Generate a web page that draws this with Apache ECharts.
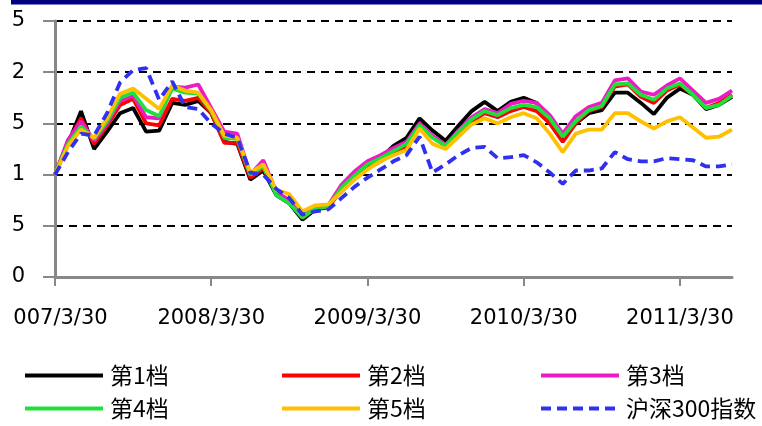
<!DOCTYPE html>
<html>
<head>
<meta charset="utf-8">
<script src="https://cdn.jsdelivr.net/npm/echarts@6/dist/echarts.min.js"></script>
<style>
html, body { margin: 0; padding: 0; background: #fff; }
#chart { width: 762px; height: 426px; }
</style>
</head>
<body>
<div id="chart"></div>
<script>
// 月末日期 2007/3 ~ 2011/7
var categories = [];
for (var y = 2007; y <= 2011; y++) {
  for (var m = 1; m <= 12; m++) {
    if (y === 2007 && m < 3) continue;
    if (y === 2011 && m > 7) break;
    categories.push(y + '/' + m + '/' + (m === 2 ? 28 : 30));
  }
}

// 轴上看得到的刻度文字（左侧被裁掉一部分）
var xTickLabels = ['007/3/30', '2008/3/30', '2009/3/30', '2010/3/30', '2011/3/30'];
var yTickLabels = ['0', '5', '1', '5', '2', '5'];

var seriesNames = ['第1档', '第2档', '第3档', '第4档', '第5档', '沪深300指数'];

var tier1 = [1.00,1.30,1.62,1.25,1.42,1.60,1.65,1.42,1.43,1.70, 1.68,1.72,1.60,1.32,1.30,0.95,1.04,0.80,0.72,0.56,
             0.66,0.68,0.87,0.99,1.08,1.16,1.28,1.36,1.55,1.43, 1.33,1.48,1.62,1.71,1.62,1.71,1.75,1.70,1.55,1.36,
             1.50,1.60,1.63,1.80,1.80,1.70,1.59,1.75,1.84,1.78, 1.64,1.68,1.76];
var tier2 = [1.00,1.32,1.55,1.30,1.48,1.68,1.74,1.50,1.48,1.74, 1.72,1.75,1.60,1.31,1.31,0.97,1.06,0.82,0.74,0.58,
             0.67,0.68,0.85,0.96,1.06,1.13,1.21,1.28,1.47,1.37, 1.28,1.41,1.52,1.60,1.56,1.62,1.66,1.62,1.50,1.32,
             1.50,1.62,1.66,1.86,1.88,1.76,1.70,1.82,1.88,1.78, 1.65,1.70,1.78];
var tier3 = [1.00,1.34,1.52,1.33,1.50,1.72,1.77,1.56,1.55,1.86, 1.85,1.88,1.65,1.42,1.40,1.00,1.14,0.83,0.75,0.59,
             0.68,0.70,0.90,1.03,1.13,1.19,1.26,1.32,1.50,1.38, 1.29,1.43,1.56,1.64,1.60,1.69,1.72,1.70,1.58,1.40,
             1.57,1.66,1.70,1.92,1.94,1.81,1.78,1.87,1.94,1.82, 1.70,1.74,1.82];
var tier4 = [1.00,1.30,1.47,1.35,1.52,1.75,1.80,1.63,1.57,1.84, 1.80,1.79,1.62,1.36,1.35,1.00,1.08,0.80,0.72,0.58,
             0.67,0.69,0.87,0.99,1.10,1.16,1.23,1.30,1.48,1.36, 1.28,1.42,1.54,1.62,1.58,1.65,1.68,1.66,1.55,1.37,
             1.52,1.63,1.67,1.88,1.89,1.78,1.73,1.84,1.89,1.78, 1.65,1.68,1.77];
var tier5 = [1.00,1.28,1.44,1.36,1.55,1.79,1.84,1.74,1.64,1.87, 1.82,1.80,1.63,1.38,1.36,1.02,1.10,0.85,0.81,0.64,
             0.70,0.71,0.83,0.95,1.05,1.13,1.19,1.24,1.45,1.30, 1.25,1.37,1.49,1.55,1.50,1.56,1.60,1.55,1.40,1.22,
             1.40,1.44,1.44,1.60,1.60,1.52,1.45,1.52,1.56,1.46, 1.36,1.37,1.44];
var hs300 = [1.00,1.22,1.40,1.38,1.60,1.90,2.02,2.04,1.73,1.91, 1.66,1.64,1.50,1.40,1.36,1.02,1.00,0.86,0.77,0.61,
             0.64,0.66,0.77,0.88,0.97,1.05,1.13,1.19,1.37,1.02, 1.10,1.19,1.26,1.27,1.16,1.17,1.19,1.12,1.02,0.91,
             1.04,1.04,1.06,1.22,1.15,1.13,1.13,1.16,1.15,1.14, 1.08,1.08,1.10];

var seriesData = [tier1, tier2, tier3, tier4, tier5, hs300];
var colors = ['#000000', '#ff0000', '#ec1cc4', '#1ee03c', '#ffc000', '#3030f0'];
var dash = [10, 6];

var myChart = echarts.init(document.getElementById('chart'));

// 图例：两行三列，只画线不画点
var legends = seriesNames.map(function (name, i) {
  return {
    data: [name],
    left: [23, 280, 539][i % 3],
    top: i < 3 ? 364 : 397,
    padding: 0,
    itemWidth: 78,
    itemHeight: 22,
    selectedMode: false,
    itemStyle: { opacity: 0, borderWidth: 0 },
    lineStyle: { width: 4, type: i === 5 ? dash : 'solid' },
    textStyle: {
      fontFamily: 'Noto Sans CJK SC',
      fontSize: 23,
      color: '#000',
      padding: [0, 0, 0, 2]
    }
  };
});

var series = seriesNames.map(function (name, i) {
  return {
    name: name,
    type: 'line',
    data: seriesData[i],
    symbol: 'none',
    color: colors[i],
    lineStyle: { color: colors[i], width: 3.8, type: i === 5 ? dash : 'solid' }
  };
});

var option = {
  animation: false,
  backgroundColor: '#fff',
  graphic: [{
    type: 'rect',
    left: 11,
    top: 0,
    shape: { width: 751, height: 4.5 },
    style: { fill: '#000080' }
  }],
  legend: legends,
  grid: {
    left: 55,
    right: 30,
    top: 21,
    bottom: 149,
    outerBoundsMode: 'none'
  },
  xAxis: {
    type: 'category',
    boundaryGap: false,
    data: categories,
    axisLine: { lineStyle: { color: '#888', width: 3 } },
    axisTick: { interval: 11, length: 9, lineStyle: { color: '#888', width: 2 } },
    axisLabel: {
      interval: 11,
      margin: 31,
      fontFamily: 'DejaVu Sans',
      fontSize: 21,
      color: '#000',
      formatter: function (v, idx) {
        var k = Math.round(idx / 12);
        return k === 0 ? '{first|' + xTickLabels[0] + '}' : xTickLabels[k];
      },
      rich: {
        first: { fontFamily: 'DejaVu Sans', fontSize: 21, color: '#000', padding: [0, 0, 0, 11] }
      }
    },
    splitLine: { show: false }
  },
  yAxis: {
    type: 'value',
    min: 0,
    max: 2.5,
    interval: 0.5,
    axisLine: { show: true, lineStyle: { color: '#888', width: 3 } },
    axisTick: { show: true, length: 12, lineStyle: { color: '#888', width: 2 } },
    axisLabel: {
      margin: 30,
      fontFamily: 'DejaVu Sans',
      fontSize: 21,
      color: '#000',
      formatter: function (v) {
        return yTickLabels[Math.round(v / 0.5)];
      }
    },
    splitLine: { show: true, lineStyle: { color: '#000', width: 2, type: [8, 6] } }
  },
  series: series
};

myChart.setOption(option);
</script>
</body>
</html>
